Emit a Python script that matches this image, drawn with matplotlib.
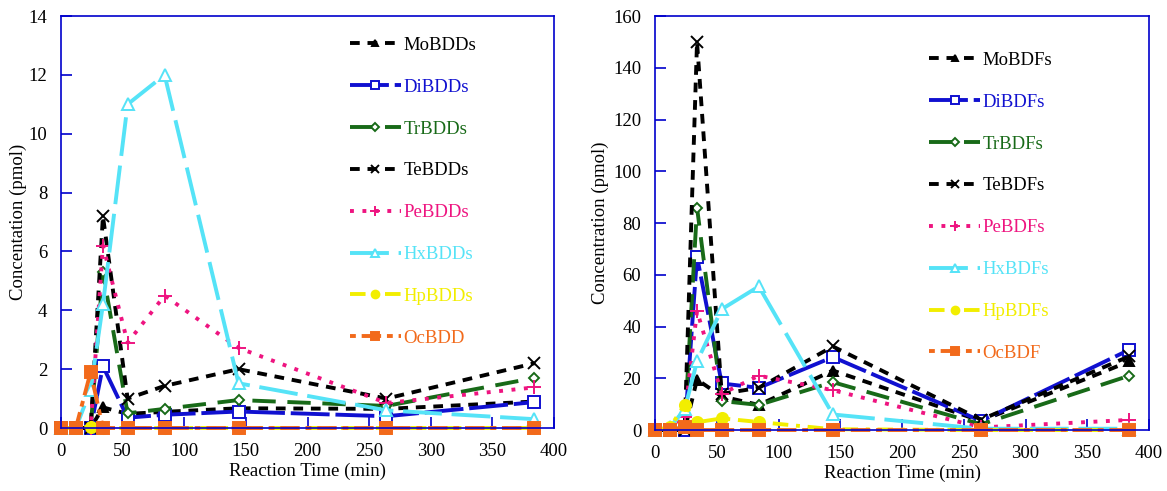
import numpy as np
import matplotlib
matplotlib.use("Agg")
import matplotlib.pyplot as plt

plt.rcParams["font.family"] = ["Liberation Serif", "DejaVu Serif"]

# reaction times (min)
times = [0, 12, 24, 34, 54, 84, 144, 264, 384]

# PBDDs (pmol)
bdd_names = ["MoBDDs", "DiBDDs", "TrBDDs", "TeBDDs", "PeBDDs", "HxBDDs", "HpBDDs", "OcBDD"]
bdd_mo = [0, 0, 0, 0.7, 0.48, 0.55, 0.67, 0.65, 0.9]
bdd_di = [0, 0, 0, 2.1, 0.35, 0.45, 0.56, 0.4, 0.88]
bdd_tr = [0, 0, 0, 5.3, 0.5, 0.65, 0.95, 0.75, 1.7]
bdd_te = [0, 0, 0, 7.2, 1.0, 1.43, 2.0, 1.0, 2.2]
bdd_pe = [0, 0, 0, 6.2, 2.9, 4.5, 2.72, 0.85, 1.38]
bdd_hx = [0, 0, 1.3, 4.2, 11.0, 12.0, 1.52, 0.6, 0.3]
bdd_hp = [0, 0, 0.05, 0, 0, 0, 0, 0, 0]
bdd_oc = [0, 0, 1.9, 0, 0, 0, 0, 0, 0]

# PBDFs (pmol)
bdf_names = ["MoBDFs", "DiBDFs", "TrBDFs", "TeBDFs", "PeBDFs", "HxBDFs", "HpBDFs", "OcBDF"]
bdf_mo = [0, 0, 0, 19.5, 13, 9.7, 23, 3.5, 26.5]
bdf_di = [0, 0, 0, 67, 18, 16.3, 28.2, 3.5, 31]
bdf_tr = [0, 0, 1, 86, 11.2, 9.7, 18.5, 2.2, 21]
bdf_te = [0, 0, 0, 150, 14, 16.3, 32.3, 4, 28.5]
bdf_pe = [0, 0, 5, 46, 14, 21, 15.4, 1, 3.9]
bdf_hx = [0, 1, 8, 26.5, 46.7, 55.5, 6, 0.5, 0.5]
bdf_hp = [0, 1, 9.8, 3, 4.5, 3.1, 0.3, 0, 0]
bdf_oc = [0, 0, 1.1, 0, 0, 0, 0, 0, 0]

# one style per homologue group: colour, dashes, marker, marker size, filled
styles = [
    ("#000000", (2.5, 2), "^", 7, True),
    ("#1010d0", (10, 1.5), "s", 8, False),
    ("#186a18", (6, 3), "D", 5.5, False),
    ("#000000", (2.5, 2), "x", 8, True),
    ("#ee1480", (1, 2.2), "+", 10, True),
    ("#55e3f7", (10, 2.5), "^", 9, False),
    ("#f2ee00", (4, 2, 1, 2), "o", 8, True),
    ("#f26a1b", (1.5, 1.5, 5, 1.5), "s", 9, True),
]

blue = "#0000cc"


def draw(ax, series, names, ymax, ystep, ylabel, ylabel_x, leg_anchor):
    for ys, name, (col, dash, mk, ms, filled) in zip(series, names, styles):
        ax.plot(times, ys, color=col, lw=2.8, dashes=dash, marker=mk, ms=ms,
                mfc=col if filled else "white", mec=col, mew=1.4,
                label=name, clip_on=False)
    ax.set_xlim(0, 400)
    ax.set_ylim(0, ymax)
    ax.set_xticks(np.arange(0, 401, 50))
    ax.set_yticks(np.arange(0, ymax + 0.1, ystep))
    for s in ax.spines.values():
        s.set_color(blue)
        s.set_linewidth(1.2)
    ax.tick_params(direction="in", length=8, color=blue, width=1.2,
                   labelsize=13.5)
    ax.tick_params(axis="x", pad=11)
    ax.tick_params(axis="y", pad=10)
    ax.set_xlabel("Reaction Time (min)", fontsize=13.5, labelpad=2)
    ax.set_ylabel(ylabel, fontsize=13.5)
    ax.yaxis.set_label_coords(ylabel_x, 0.5)
    leg = ax.legend(loc="upper left", bbox_to_anchor=leg_anchor, frameon=False,
                    fontsize=13.5, handlelength=2.7, handletextpad=0.15,
                    labelspacing=1.32, borderpad=0, borderaxespad=0,
                    markerscale=0.7)
    for txt, (col, *_rest) in zip(leg.get_texts(), styles):
        txt.set_color(col)


fig = plt.figure(figsize=(11.67, 4.91), dpi=100)
ax1 = fig.add_axes([0.0523, 0.1283, 0.4225, 0.839])
ax2 = fig.add_axes([0.5613, 0.1242, 0.4233, 0.843])

draw(ax1, [bdd_mo, bdd_di, bdd_tr, bdd_te, bdd_pe, bdd_hx, bdd_hp, bdd_oc],
     bdd_names, 14, 2, "Concentation (pmol)", -0.069, (0.586, 0.950))
draw(ax2, [bdf_mo, bdf_di, bdf_tr, bdf_te, bdf_pe, bdf_hx, bdf_hp, bdf_oc],
     bdf_names, 160, 20, "Concentration (pmol)", -0.093, (0.555, 0.914))

fig.savefig("out.png", dpi=100)
